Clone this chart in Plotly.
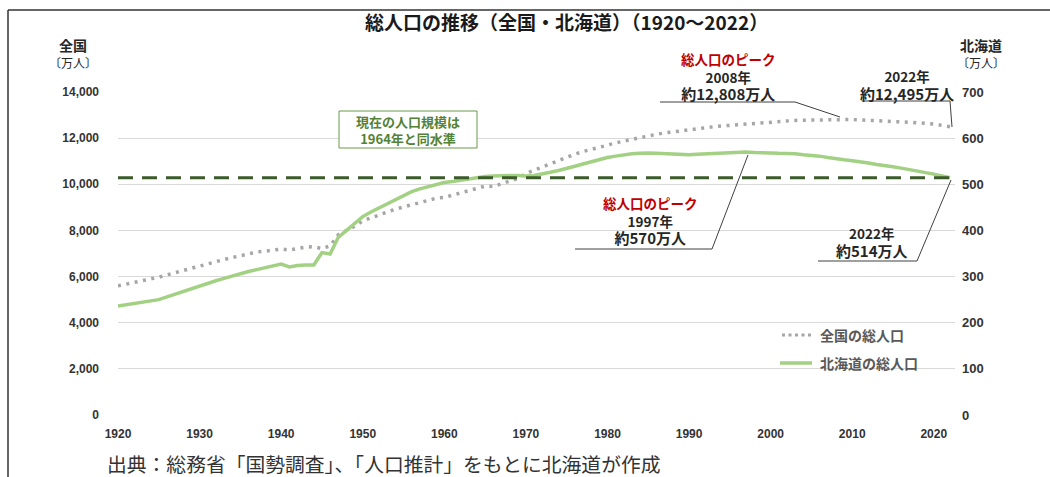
import plotly.graph_objects as go

years = list(range(1920, 2023))
national = [5596, 5666, 5739, 5812, 5888, 5974, 6074, 6163, 6254, 6346,
            6445, 6545, 6643, 6743, 6831, 6925, 7011, 7063, 7101, 7138,
            7193, 7150, 7230, 7280, 7290, 7215, 7330, 7810, 8000, 8177,
            8412, 8554, 8681, 8800, 8923, 9008, 9117, 9209, 9299, 9398,
            9430, 9528, 9618, 9712, 9812, 9921, 9904, 10020, 10133, 10254,
            10467, 10610, 10760, 10910, 11057, 11194, 11309, 11417, 11519, 11616,
            11706, 11790, 11873, 11954, 12031, 12105, 12166, 12224, 12275, 12321,
            12361, 12410, 12457, 12494, 12527, 12557, 12586, 12616, 12647, 12667,
            12693, 12732, 12749, 12769, 12779, 12777, 12790, 12803, 12808, 12803,
            12806, 12783, 12759, 12741, 12724, 12709, 12704, 12692, 12675, 12656,
            12615, 12550, 12495]
hokkaido = [236, 239, 242, 245, 247, 250, 256, 262, 268, 274,
            281, 286, 291, 296, 301, 307, 311, 315, 319, 323,
            327, 321, 324, 325, 325, 352, 349, 385, 400, 415,
            430, 440, 449, 458, 467, 477, 484, 490, 495, 500,
            504, 506, 509, 512, 514, 517, 518, 519, 519, 519,
            518, 519, 522, 526, 530, 534, 539, 544, 549, 554,
            558, 561, 564, 566, 567, 568, 567, 566, 565, 564,
            564, 565, 566, 567, 568, 569, 570, 570, 569, 569,
            568, 567, 567, 566, 564, 563, 561, 558, 555, 553,
            551, 549, 546, 543, 541, 538, 535, 532, 529, 525,
            522, 518, 514]

x_ticks = [1920, 1930, 1940, 1950, 1960, 1970, 1980, 1990, 2000, 2010, 2020]
left_ticks = [0, 2000, 4000, 6000, 8000, 10000, 12000, 14000]
right_ticks = [0, 100, 200, 300, 400, 500, 600, 700]

# layout geometry (pixels)
W_FIG, H_FIG = 1050, 477
L, R, T, B = 118, 95, 92, 62
PW = W_FIG - L - R
PH = H_FIG - T - B


def px(x):
    return (x - L) / PW


def py(y):
    return (H_FIG - B - y) / PH


JP = "Noto Sans CJK JP"
NUM = "Liberation Sans, Noto Sans CJK JP"

fig = go.Figure()
fig.add_trace(go.Scatter(
    x=years, y=national, mode="lines", name="全国の総人口",
    line=dict(color="#a6a6a6", width=3.5, dash="3px,5.5px"), yaxis="y"))
fig.add_trace(go.Scatter(
    x=years, y=hokkaido, mode="lines", name="北海道の総人口",
    line=dict(color="#a3d183", width=3.5), yaxis="y2"))
fig.add_trace(go.Scatter(
    x=[years[0], years[-1]], y=[hokkaido[-1], hokkaido[-1]], mode="lines",
    line=dict(color="#3b5b2a", width=3, dash="15px,9px"), yaxis="y2",
    showlegend=False))

shapes = []


def seg(x0, y0, x1, y1, color="#404040", width=1, dash=None):
    d = dict(type="line", xref="paper", yref="paper",
             x0=px(x0), y0=py(y0), x1=px(x1), y1=py(y1),
             line=dict(color=color, width=width))
    if dash:
        d["line"]["dash"] = dash
    shapes.append(d)


# frame
seg(8, 10, 1050, 10, color="#333333", width=1.5)
seg(8, 10, 8, 477, color="#333333", width=1.5)
# leader lines
seg(660, 102, 795, 102); seg(795, 102, 840, 117)
seg(862, 101, 950, 101); seg(950, 101, 952, 127)
seg(575, 249, 712, 249); seg(712, 249, 748, 155)
seg(818, 261, 917, 261); seg(917, 261, 951, 180)
# green box
shapes.append(dict(type="rect", xref="paper", yref="paper",
                   x0=px(339), x1=px(477), y0=py(148), y1=py(111),
                   fillcolor="white", line=dict(color="#6a9a4a", width=1)))
# legend samples
seg(782, 335, 812, 335, color="#a6a6a6", width=3, dash="3px,3.5px")
seg(780, 363, 812, 363, color="#a3d183", width=3.5)

anns = []


def text(x, y, s, size=12, color="#262626", bold=True, xanchor="center", family=JP):
    anns.append(dict(xref="paper", yref="paper", x=px(x), y=py(y), text=(f"<b>{s}</b>" if bold else s),
                     showarrow=False, xanchor=xanchor, yanchor="middle",
                     font=dict(size=size, color=color, family=family)))


RED = '<span style="color:#c00000">総人口のピーク</span>'


def big(s):
    return f'<span style="font-size:15px">{s}</span>'


text(566, 22, "総人口の推移（全国・北海道）（1920～2022）", size=19, color="#1a1a1a")
text(73, 45, "全国", size=14)
text(73, 62, "〔万人〕", size=12, bold=False)
text(981, 45, "北海道", size=14)
text(981, 62, "〔万人〕", size=12, bold=False)
text(728, 76, RED + "<br>2008年<br>" + big("約12,808万人"), size=13.5)
text(907, 85, "2022年<br>" + big("約12,495万人"), size=13.5)
text(650, 221, RED + "<br>1997年<br>" + big("約570万人"), size=13.5)
text(872, 242, "2022年<br>" + big("約514万人"), size=13.5)
text(408, 130, "現在の人口規模は<br>1964年と同水準", size=13, color="#548235")
text(818, 335, "全国の総人口", size=14, color="#595959", xanchor="left")
text(818, 363, "北海道の総人口", size=14, color="#595959", xanchor="left")
text(105, 463, "出典：総務省「国勢調査」、「人口推計」をもとに北海道が作成", size=19.8,
     color="#333333", bold=False, xanchor="left")

fig.update_layout(
    width=W_FIG, height=H_FIG,
    margin=dict(l=L, r=R, t=T, b=B, autoexpand=False),
    paper_bgcolor="white", plot_bgcolor="white",
    showlegend=False,
    shapes=shapes, annotations=anns,
    xaxis=dict(range=[1920, 2022.6], tickvals=x_ticks, showgrid=False, zeroline=False,
               showline=False, ticks="", ticklabelstandoff=10,
               tickfont=dict(family=NUM, size=12, color="#333333", weight="bold")),
    yaxis=dict(range=[0, 14000], tickvals=left_ticks,
               ticktext=[f"{v:,}" for v in left_ticks],
               showgrid=True, gridcolor="#d9d9d9", gridwidth=1, zeroline=False,
               showline=False, ticks="", ticklabelstandoff=18,
               tickfont=dict(family=NUM, size=12, color="#333333", weight="bold")),
    yaxis2=dict(range=[0, 700], tickvals=right_ticks, overlaying="y", side="right",
                showgrid=False, zeroline=False, showline=False, ticks="",
                ticklabelstandoff=6,
                tickfont=dict(family=NUM, size=13, color="#333333", weight="bold")),
)

fig.write_html("out.html", config={"displayModeBar": False},
               post_script="document.body.style.margin='0';document.body.style.overflow='hidden';")
